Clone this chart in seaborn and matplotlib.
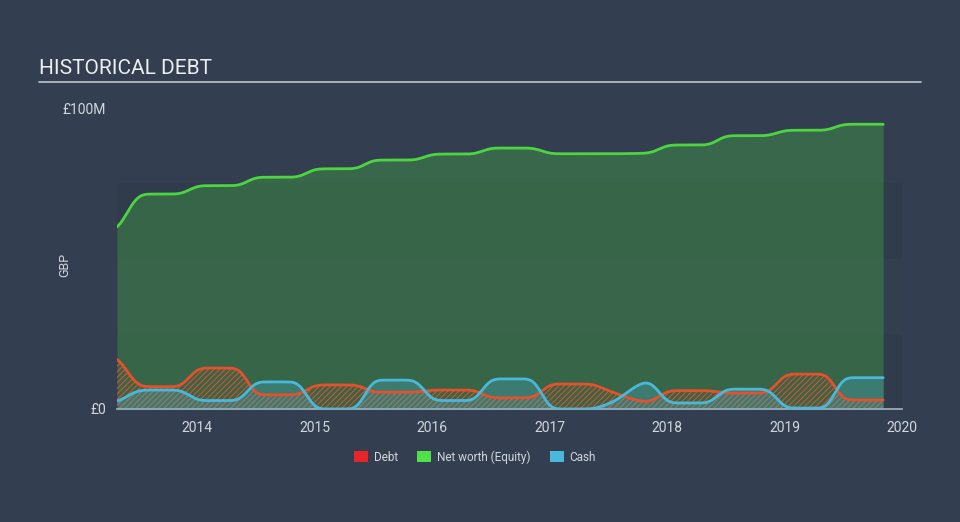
import numpy as np
import pandas as pd
import matplotlib
matplotlib.use("Agg")
import matplotlib.pyplot as plt
import seaborn as sns
from matplotlib.patches import Patch

# ---- data (GBP millions) ----
dates = [2013.32, 2013.54, 2013.84, 2014.03, 2014.34, 2014.52, 2014.84, 2015.03,
         2015.34, 2015.52, 2015.84, 2016.03, 2016.34, 2016.52, 2016.84, 2017.03,
         2017.34, 2017.52, 2017.84, 2018.03, 2018.34, 2018.52, 2018.84, 2019.03,
         2019.34, 2019.52, 2019.84]
equity = [59.5, 71.4, 71.4, 74.2, 74.2, 77.0, 77.0, 79.8, 79.8, 82.7, 82.7, 84.7,
          84.7, 86.7, 86.7, 84.8, 84.8, 84.8, 85.0, 87.7, 87.7, 90.8, 90.8, 92.6,
          92.6, 94.6, 94.6]
debt = [17.3, 7.4, 7.4, 13.6, 13.6, 4.7, 4.7, 8.0, 8.0, 5.6, 5.6, 6.3, 6.3, 3.7,
        3.7, 8.3, 8.3, 5.8, 2.4, 6.1, 6.1, 5.3, 5.3, 11.6, 11.6, 3.0, 3.0]
cash = [2.3, 6.3, 6.3, 2.8, 2.8, 9.0, 9.0, 0.0, 0.0, 9.6, 9.6, 2.8, 2.8, 10.0,
        10.0, 0.0, 0.0, 2.0, 9.0, 2.0, 2.0, 6.6, 6.6, 0.3, 0.3, 10.4, 10.4]
year_ticks = [2014, 2015, 2016, 2017, 2018, 2019, 2020]
series_names = ["Debt", "Net worth (Equity)", "Cash"]


def pchip(x, y, xn):
    x = np.asarray(x, float); y = np.asarray(y, float)
    h = np.diff(x); d = np.diff(y) / h
    n = len(x); m = np.zeros(n)
    for k in range(1, n - 1):
        if d[k - 1] * d[k] > 0:
            w1 = 2 * h[k] + h[k - 1]; w2 = h[k] + 2 * h[k - 1]
            m[k] = (w1 + w2) / (w1 / d[k - 1] + w2 / d[k])
    m[0] = d[0]
    m[-1] = d[-1]
    idx = np.clip(np.searchsorted(x, xn) - 1, 0, n - 2)
    t = (xn - x[idx]) / h[idx]
    h00 = 2 * t**3 - 3 * t**2 + 1; h10 = t**3 - 2 * t**2 + t
    h01 = -2 * t**3 + 3 * t**2; h11 = t**3 - t**2
    return h00 * y[idx] + h10 * h[idx] * m[idx] + h01 * y[idx + 1] + h11 * h[idx] * m[idx + 1]


def soften(v, k=25):
    # light rendering smoothing of the curve corners
    pad = np.concatenate([np.full(k, v[0]), v, np.full(k, v[-1])])
    w = np.hanning(2 * k + 1); w /= w.sum()
    return np.convolve(pad, w, mode="same")[k:-k]


xs = np.linspace(dates[0], dates[-1], 1500)
df = pd.DataFrame({
    "x": xs,
    "equity": soften(pchip(dates, equity, xs)),
    "debt": np.clip(soften(pchip(dates, debt, xs)), 0, None),
    "cash": np.clip(soften(pchip(dates, cash, xs)), 0, None),
})

BG = "#333f50"
TXT = "#d3d7dd"
GREEN = "#4cd540"
RED = "#e4512c"
BLUE = "#4ab8da"

sns.set_theme(style="white")
plt.rcParams["font.family"] = ["Roboto", "DejaVu Sans"]
plt.rcParams["hatch.linewidth"] = 0.8

fig = plt.figure(figsize=(9.6, 5.22), dpi=100, facecolor=BG)
ax = fig.add_axes([117 / 960, 1 - 409 / 522, (902 - 117) / 960, (409 - 108) / 522])
ax.set_facecolor(BG)

# subtle background bands
ax.axhspan(0, 25, color="#303c4c", lw=0, zorder=0)
ax.axhspan(25, 50, color="#333e4f", lw=0, zorder=0)
ax.axhspan(50, 75, color="#303c4c", lw=0, zorder=0)

ax.fill_between(df["x"], 0, df["equity"], color=GREEN, alpha=0.27, lw=0, zorder=1)
ax.fill_between(df["x"], 0, df["debt"], facecolor="none", edgecolor=RED, hatch="//////",
                lw=0, alpha=0.9, zorder=2)
ax.fill_between(df["x"], 0, df["cash"], color=BLUE, alpha=0.28, lw=0, zorder=3)

sns.lineplot(data=df, x="x", y="equity", color=GREEN, lw=2, ax=ax, zorder=5)
sns.lineplot(data=df, x="x", y="debt", color=RED, lw=2, ax=ax, zorder=5)
sns.lineplot(data=df, x="x", y="cash", color=BLUE, lw=2, ax=ax, zorder=6)

ax.set_xlim(dates[0], 2020)
ax.set_ylim(0, 100)
ax.set_xlabel("")
ax.set_ylabel("")
ax.set_xticks(year_ticks)
ax.set_xticklabels([str(y) for y in year_ticks])
ax.set_yticks([0, 100])
ax.set_yticklabels(["£0", "£100M"])
ax.tick_params(axis="x", colors="#aab3bf", length=8, width=1, labelcolor=TXT, labelsize=10, pad=1)
ax.tick_params(axis="y", length=0, labelcolor=TXT, labelsize=10, pad=8)
for s in ["top", "right", "left"]:
    ax.spines[s].set_visible(False)
ax.spines["bottom"].set_color("#aab3bf")
ax.spines["bottom"].set_linewidth(1.2)

fig.text(65 / 960, 1 - 265 / 522, "GBP", color=TXT, fontsize=9, rotation=90,
         va="center", ha="center")

# title and rule
fig.text(39 / 960, 1 - 69 / 522, "HISTORICAL DEBT", color="#eceef0", fontsize=15,
         va="center", ha="left")
fig.add_artist(plt.Line2D([39 / 960, 921 / 960], [1 - 82 / 522] * 2, color="#b3b9c2", lw=1.3))

# legend
handles = [Patch(facecolor=c, edgecolor="none") for c in ["#e8262a", "#4fe04a", "#4ab8da"]]
fig.legend(handles, series_names, loc="center", bbox_to_anchor=(475 / 960, 1 - 457 / 522),
           ncol=3, frameon=False, fontsize=8.5, labelcolor=TXT, handlelength=1.2,
           handleheight=1.0, handletextpad=0.5, columnspacing=1.6)

fig.savefig("out.png", dpi=100, facecolor=BG)
